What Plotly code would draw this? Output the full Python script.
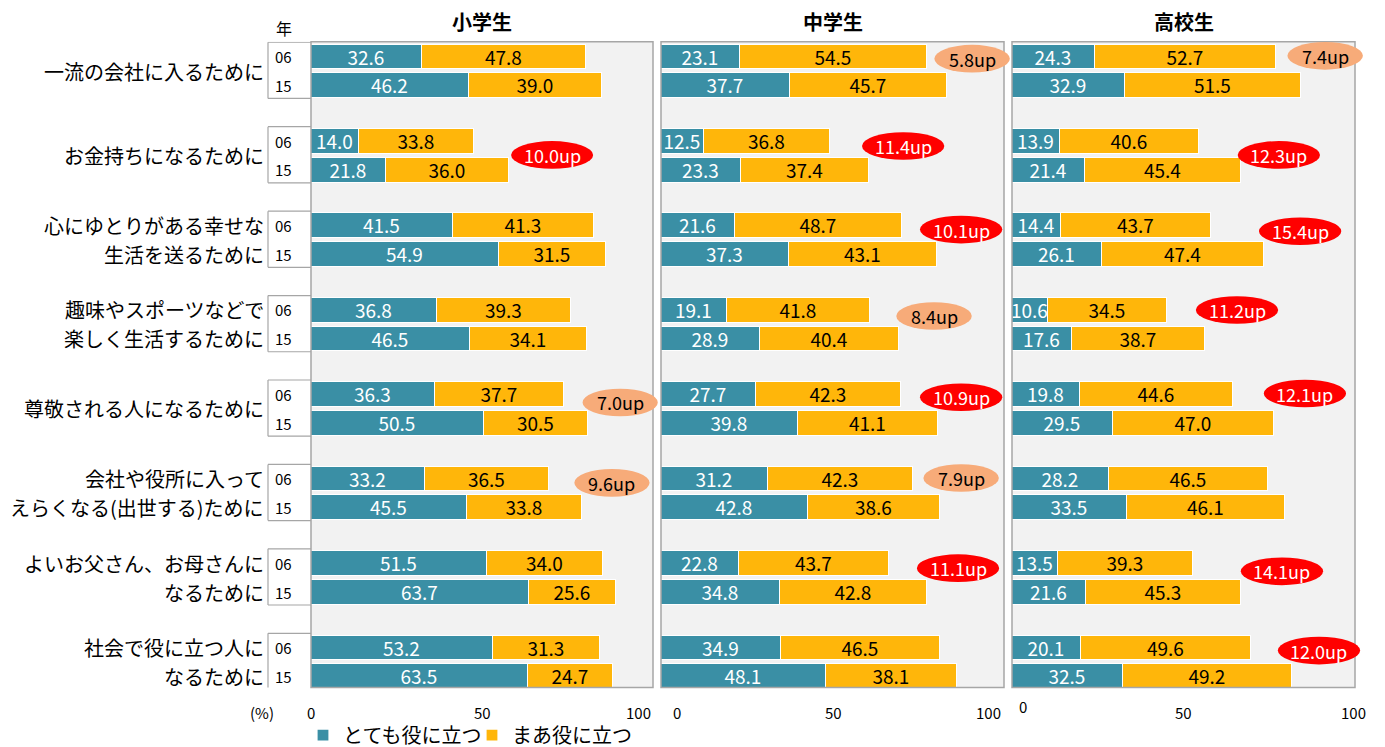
import plotly.graph_objects as go

# ---------------- data ----------------
categories = [
    "一流の会社に入るために",
    "お金持ちになるために",
    "心にゆとりがある幸せな<br>生活を送るために",
    "趣味やスポーツなどで<br>楽しく生活するために",
    "尊敬される人になるために",
    "会社や役所に入って<br>えらくなる(出世する)ために",
    "よいお父さん、お母さんに<br>なるために",
    "社会で役に立つ人に<br>なるために",
]
years = ["06", "15"]
panels = ["小学生", "中学生", "高校生"]
series_names = ["とても役に立つ", "まあ役に立つ"]
tick_vals = [0, 50, 100]
tick_text = ["0", "50", "100"]

# values per category
sho_very_06 = [32.6, 14.0, 41.5, 36.8, 36.3, 33.2, 51.5, 53.2]
sho_very_15 = [46.2, 21.8, 54.9, 46.5, 50.5, 45.5, 63.7, 63.5]
sho_some_06 = [47.8, 33.8, 41.3, 39.3, 37.7, 36.5, 34.0, 31.3]
sho_some_15 = [39.0, 36.0, 31.5, 34.1, 30.5, 33.8, 25.6, 24.7]

chu_very_06 = [23.1, 12.5, 21.6, 19.1, 27.7, 31.2, 22.8, 34.9]
chu_very_15 = [37.7, 23.3, 37.3, 28.9, 39.8, 42.8, 34.8, 48.1]
chu_some_06 = [54.5, 36.8, 48.7, 41.8, 42.3, 42.3, 43.7, 46.5]
chu_some_15 = [45.7, 37.4, 43.1, 40.4, 41.1, 38.6, 42.8, 38.1]

ko_very_06 = [24.3, 13.9, 14.4, 10.6, 19.8, 28.2, 13.5, 20.1]
ko_very_15 = [32.9, 21.4, 26.1, 17.6, 29.5, 33.5, 21.6, 32.5]
ko_some_06 = [52.7, 40.6, 43.7, 34.5, 44.6, 46.5, 39.3, 49.6]
ko_some_15 = [51.5, 45.4, 47.4, 38.7, 47.0, 46.1, 45.3, 49.2]

# "up" callouts: panel index, category index, label, strong (red) or not
up_panel = [0, 0, 0, 1, 1, 1, 1, 1, 1, 1, 2, 2, 2, 2, 2, 2, 2]
up_cat   = [1, 4, 5, 0, 1, 2, 3, 4, 5, 6, 0, 1, 2, 3, 4, 6, 7]
up_text  = ["10.0up", "7.0up", "9.6up",
            "5.8up", "11.4up", "10.1up", "8.4up", "10.9up", "7.9up", "11.1up",
            "7.4up", "12.3up", "15.4up", "11.2up", "12.1up", "14.1up", "12.0up"]
up_strong = [True, False, False,
             False, True, True, False, True, False, True,
             False, True, True, True, True, True, True]
# callout placement (axis units / row offset within category)
up_x = [70.5, 90.4, 88.0,
        90.7, 70.6, 87.5, 79.6, 87.5, 87.5, 86.6,
        91.3, 77.8, 84.0, 65.6, 85.4, 78.7, 89.5]
up_dy = [0.48, 0.28, 0.14,
         0.07, 0.17, 0.14, 0.21, 0.10, -0.03, 0.17,
         -0.03, 0.48, 0.20, 0.00, -0.03, 0.28, 0.10]

# ---------------- styling ----------------
W, H = 1385, 747
OFF = 8  # page offset of the figure
TEAL = "#3A8FA5"
ORANGE = "#FFB60A"
RED = "#FF0000"
SALMON = "#F7AB79"
BG = "#F2F2F2"
FRAME = "#A6A6A6"
FONT = "Noto Sans CJK JP"


def fx(px):
    return (px - OFF) / W


def fy(py):
    return 1 - (py - OFF) / H


K = 85 / 29.0  # category spacing in row units
panel_px = [(311, 653), (661, 1004), (1012, 1355)]
top_px, bot_px = 42, 692
tick_shift = [[0, 0, -15], [16, 1, -16], [11, 0, -2]]
tick_yshift = [[0, 0, 0], [0, 0, 0], [6, 0, 0]]

values = [
    (sho_very_06, sho_very_15, sho_some_06, sho_some_15),
    (chu_very_06, chu_very_15, chu_some_06, chu_some_15),
    (ko_very_06, ko_very_15, ko_some_06, ko_some_15),
]

fig = go.Figure()

ypos = []
for i in range(len(categories)):
    ypos += [i * K, i * K + 1]

for p, (v06, v15, s06, s15) in enumerate(values):
    xa = "x" if p == 0 else f"x{p+1}"
    ya = "y" if p == 0 else f"y{p+1}"
    very = []
    some = []
    for i in range(len(categories)):
        very += [v06[i], v15[i]]
        some += [s06[i], s15[i]]
    fig.add_trace(go.Bar(
        x=very, y=ypos, orientation="h", xaxis=xa, yaxis=ya,
        name=series_names[0], showlegend=(p == 0), legendgroup="a",
        marker=dict(color=TEAL, line=dict(color="white", width=1.2)),
        width=0.86, text=[f"{v:.1f}" for v in very],
        textposition="inside", insidetextanchor="middle", textangle=0,
        textfont=dict(color="white", size=19, family=FONT),
        constraintext="none", hoverinfo="x",
    ))
    fig.add_trace(go.Bar(
        x=some, y=ypos, orientation="h", xaxis=xa, yaxis=ya,
        name=series_names[1], showlegend=(p == 0), legendgroup="b",
        marker=dict(color=ORANGE, line=dict(color="white", width=1.2)),
        width=0.86, text=[f"{v:.1f}" for v in some],
        textposition="inside", insidetextanchor="middle", textangle=0,
        textfont=dict(color="black", size=19, family=FONT),
        constraintext="none", hoverinfo="x",
    ))

yr = [len(categories) * K - K + 1 + 11 / 29.0, -15 / 29.0]
ydom = [fy(bot_px), fy(top_px)]

layout = dict(
    width=W, height=H,
    margin=dict(l=0, r=0, t=0, b=0),
    paper_bgcolor="white", plot_bgcolor=BG,
    barmode="stack", bargap=0,
    font=dict(family=FONT, color="black"),
    uniformtext=dict(minsize=19, mode="show"),
    showlegend=True,
    legend=dict(orientation="h", x=fx(343) - 40 / W, xanchor="left",
                y=fy(740), yanchor="middle",
                font=dict(size=20, family=FONT), bgcolor="rgba(0,0,0,0)",
                entrywidth=124, entrywidthmode="pixels",
                itemwidth=30, tracegroupgap=0, traceorder="normal"),
)
for p, (x0, x1) in enumerate(panel_px):
    sfx = "" if p == 0 else str(p + 1)
    layout["xaxis" + sfx] = dict(
        domain=[fx(x0), fx(x1)], range=[0, 100], anchor="y" + sfx,
        tickvals=tick_vals, showticklabels=False,
        showgrid=False, zeroline=False, showline=False, ticks="",
        fixedrange=True,
    )
    layout["yaxis" + sfx] = dict(
        domain=ydom, range=yr, anchor="x" + sfx,
        showticklabels=False, showgrid=False, zeroline=False, showline=False,
        ticks="", fixedrange=True,
    )
fig.update_layout(**layout)

shapes = []
annotations = []

# panel frames, titles, tick labels
for p, (x0, x1) in enumerate(panel_px):
    sfx = "" if p == 0 else str(p + 1)
    shapes.append(dict(type="rect", xref=f"x{sfx} domain", yref=f"y{sfx} domain",
                       x0=0, x1=1, y0=0, y1=1,
                       line=dict(color=FRAME, width=1.5), fillcolor="rgba(0,0,0,0)",
                       layer="above"))
    annotations.append(dict(text=f"<b>{panels[p]}</b>", xref="paper", yref="paper",
                            x=fx((x0 + x1) / 2), y=fy(22), showarrow=False,
                            xanchor="center", yanchor="middle",
                            font=dict(size=20, family=FONT, color="black")))
    for t, (tv, tt) in enumerate(zip(tick_vals, tick_text)):
        annotations.append(dict(text=tt, xref="x" + sfx, yref="paper",
                                x=tv, y=fy(717), showarrow=False,
                                xanchor="center", yanchor="middle",
                                xshift=tick_shift[p][t], yshift=tick_yshift[p][t],
                                font=dict(size=15, family=FONT, color="black")))

# category labels, year labels and bracket lines
for i, lab in enumerate(categories):
    parts = lab.split("<br>")
    rows = [i * K + 0.5] if len(parts) == 1 else [i * K + j for j in range(len(parts))]
    for part, yy in zip(parts, rows):
        annotations.append(dict(text=part, xref="paper", yref="y",
                                x=fx(266), y=yy, showarrow=False,
                                xanchor="right", yanchor="middle",
                                font=dict(size=20, family=FONT, color="black")))
    for j, yrlab in enumerate(years):
        annotations.append(dict(text=yrlab, xref="paper", yref="y",
                                x=fx(283), y=i * K + j, showarrow=False,
                                xanchor="center", yanchor="middle",
                                font=dict(size=15, family=FONT, color="black")))
    ytop = i * K - 0.5
    ybot = i * K + 1.45
    for yy in (ytop, ybot):
        shapes.append(dict(type="line", xref="paper", yref="y",
                           x0=fx(268), x1=fx(311), y0=yy, y1=yy,
                           line=dict(color=FRAME, width=1.2)))
    shapes.append(dict(type="line", xref="paper", yref="y",
                       x0=fx(268), x1=fx(268), y0=ytop, y1=ybot,
                       line=dict(color=FRAME, width=1.2)))

annotations.append(dict(text="年", xref="paper", yref="paper", x=fx(284), y=fy(28),
                        xanchor="center", yanchor="middle",
                        showarrow=False, font=dict(size=16, family=FONT, color="black")))
annotations.append(dict(text="(%)", xref="paper", yref="paper", x=fx(262), y=fy(717),
                        xanchor="center", yanchor="middle",
                        showarrow=False, font=dict(size=15, family=FONT, color="black")))

# "up" callouts (x in axis-domain fraction so they are not clipped at the frame)
for k in range(len(up_text)):
    p = up_panel[k]
    sfx = "" if p == 0 else str(p + 1)
    cx = up_x[k] / 100.0
    cy = up_cat[k] * K + up_dy[k]
    hw = (12.0 if up_strong[k] else 11.0) / 100.0
    hh = 0.48
    col = RED if up_strong[k] else SALMON
    shapes.append(dict(type="circle", xref=f"x{sfx} domain", yref="y" + sfx,
                       x0=cx - hw, x1=cx + hw, y0=cy - hh, y1=cy + hh,
                       fillcolor=col, line=dict(width=0), layer="above"))
    annotations.append(dict(text=up_text[k], xref=f"x{sfx} domain", yref="y" + sfx,
                            x=cx, y=cy, showarrow=False, xanchor="center", yanchor="middle",
                            font=dict(size=18, family=FONT,
                                      color="white" if up_strong[k] else "black")))

fig.update_layout(shapes=shapes, annotations=annotations)
fig.write_html("out.html")
